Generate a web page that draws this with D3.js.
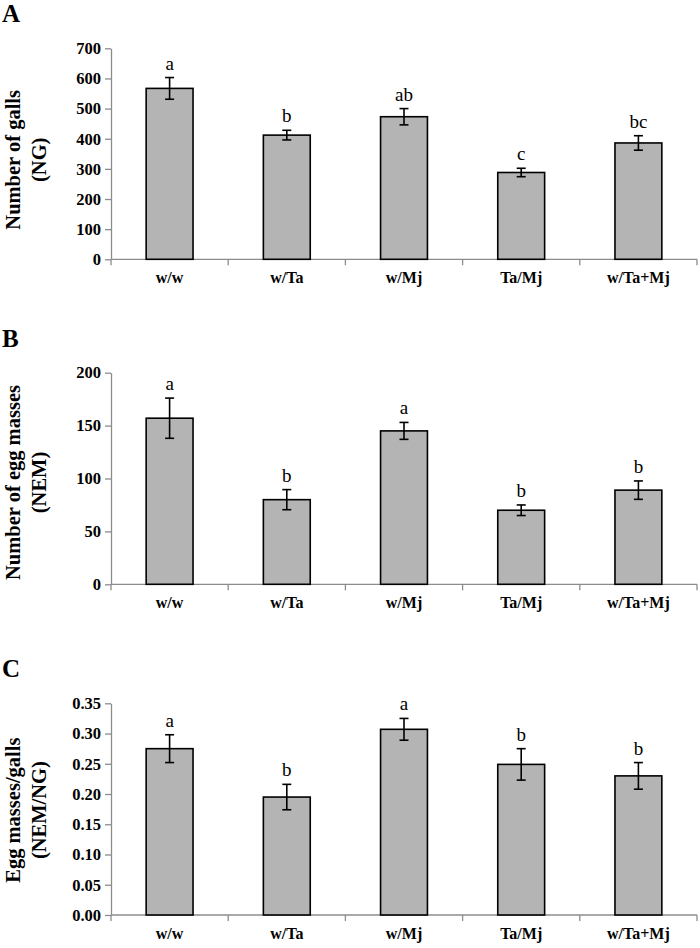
<!DOCTYPE html>
<html>
<head>
<meta charset="utf-8">
<script src="https://cdn.jsdelivr.net/npm/d3@7"></script>
<style>
  html, body { margin: 0; padding: 0; background: #fff; }
  svg { display: block; }
</style>
</head>
<body>
<svg id="chart" width="700" height="948"></svg>
<script>
const categories = ["w/w", "w/Ta", "w/Mj", "Ta/Mj", "w/Ta+Mj"];

const gallsMean = [567, 412, 473, 288, 386];
const gallsErr = [36, 16, 27, 14, 24];
const gallsLetters = ["a", "b", "ab", "c", "bc"];
const gallsTicks = [0, 100, 200, 300, 400, 500, 600, 700];

const eggMean = [157, 80, 145, 70, 89];
const eggErr = [19, 9.5, 8, 5, 8.7];
const eggLetters = ["a", "b", "a", "b", "b"];
const eggTicks = [0, 50, 100, 150, 200];

const ratioMean = [0.275, 0.195, 0.307, 0.249, 0.230];
const ratioErr = [0.023, 0.021, 0.018, 0.026, 0.022];
const ratioLetters = ["a", "b", "a", "b", "b"];
const ratioTicks = [0, 0.05, 0.10, 0.15, 0.20, 0.25, 0.30, 0.35];

const panels = [
  { label: "A", top: 48.3, bottom: 259.3, max: 700, means: gallsMean, errs: gallsErr, letters: gallsLetters, ticks: gallsTicks, fmt: d3.format("d"), title1: "Number of galls", title2: "(NG)", shift: 6 },
  { label: "B", top: 372.7, bottom: 584.3, max: 200, means: eggMean, errs: eggErr, letters: eggLetters, ticks: eggTicks, fmt: d3.format("d"), title1: "Number of egg masses", title2: "(NEM)", shift: 4 },
  { label: "C", top: 703.3, bottom: 915, max: 0.35, means: ratioMean, errs: ratioErr, letters: ratioLetters, ticks: ratioTicks, fmt: d3.format(".2f"), title1: "Egg masses/galls", title2: "(NEM/NG)", shift: 1 }
];

const svg = d3.select("#chart");
const left = 111, right = 697;
const serif = "'Liberation Serif', 'Times New Roman', serif";

const x = d3.scaleBand().domain(categories).range([left, right]).paddingInner(0.6).paddingOuter(0.3);

panels.forEach(p => {
  const g = svg.append("g");
  const y = d3.scaleLinear().domain([0, p.max]).range([p.bottom, p.top]);

  // panel label
  g.append("text").attr("x", 2).attr("y", p.top - 26)
    .attr("font-family", serif).attr("font-weight", "bold").attr("font-size", 25)
    .attr("fill", "#000").text(p.label);

  // y axis
  const yAxis = d3.axisLeft(y).tickValues(p.ticks).tickFormat(p.fmt).tickSize(6).tickSizeOuter(0);
  const ya = g.append("g").attr("transform", `translate(${left},0)`).call(yAxis);
  ya.select(".domain").attr("stroke", "#8c8c8c").attr("stroke-width", 1.3);
  ya.selectAll(".tick line").attr("stroke", "#8c8c8c").attr("stroke-width", 1.3);
  ya.selectAll(".tick text").attr("font-family", serif).attr("font-weight", "bold")
    .attr("font-size", 16.5).attr("fill", "#000").attr("x", -10);

  // x axis: line with ticks at band boundaries
  const xAxisG = g.append("g").attr("transform", `translate(0,${p.bottom})`);
  xAxisG.append("line").attr("x1", left).attr("x2", right).attr("y1", 0).attr("y2", 0)
    .attr("stroke", "#8c8c8c").attr("stroke-width", 1.3);
  const bounds = d3.range(categories.length + 1).map(i => left + (right - left) * i / categories.length);
  xAxisG.selectAll("line.b").data(bounds).join("line").attr("class", "b")
    .attr("x1", d => d).attr("x2", d => d).attr("y1", 0).attr("y2", 6)
    .attr("stroke", "#8c8c8c").attr("stroke-width", 1.3);
  const bandCenter = i => left + (right - left) * (i + 0.5) / categories.length;
  xAxisG.selectAll("text").data(categories).join("text")
    .attr("x", (d, i) => bandCenter(i)).attr("y", 24)
    .attr("text-anchor", "middle").attr("font-family", serif).attr("font-weight", "bold")
    .attr("font-size", 16).attr("fill", "#000").text(d => d);

  // bars
  const bw = x.bandwidth();
  const data = categories.map((c, i) => ({ c, i, m: p.means[i], e: p.errs[i], l: p.letters[i] }));
  g.selectAll("rect.bar").data(data).join("rect").attr("class", "bar")
    .attr("x", d => bandCenter(d.i) - bw / 2).attr("width", bw)
    .attr("y", d => y(d.m)).attr("height", d => y(0) - y(d.m))
    .attr("fill", "#b4b4b4").attr("stroke", "#000").attr("stroke-width", 1.6);

  // error bars
  const eb = g.selectAll("g.err").data(data).join("g").attr("class", "err")
    .attr("stroke", "#000").attr("stroke-width", 1.6);
  eb.append("line").attr("x1", d => bandCenter(d.i)).attr("x2", d => bandCenter(d.i))
    .attr("y1", d => y(d.m + d.e)).attr("y2", d => y(d.m - d.e));
  eb.append("line").attr("x1", d => bandCenter(d.i) - 4.5).attr("x2", d => bandCenter(d.i) + 4.5)
    .attr("y1", d => y(d.m + d.e)).attr("y2", d => y(d.m + d.e));
  eb.append("line").attr("x1", d => bandCenter(d.i) - 4.5).attr("x2", d => bandCenter(d.i) + 4.5)
    .attr("y1", d => y(d.m - d.e)).attr("y2", d => y(d.m - d.e));

  // letters
  g.selectAll("text.letter").data(data).join("text").attr("class", "letter")
    .attr("x", d => bandCenter(d.i)).attr("y", d => y(d.m + d.e) - 8)
    .attr("text-anchor", "middle").attr("font-family", serif).attr("font-size", 19)
    .attr("fill", "#000").text(d => d.l);

  // y title
  const cy = (p.top + p.bottom) / 2 + p.shift;
  g.append("text").attr("transform", `translate(20,${cy}) rotate(-90)`)
    .attr("text-anchor", "middle").attr("font-family", serif).attr("font-weight", "bold")
    .attr("font-size", 20.5).attr("fill", "#000").text(p.title1);
  g.append("text").attr("transform", `translate(46,${cy}) rotate(-90)`)
    .attr("text-anchor", "middle").attr("font-family", serif).attr("font-weight", "bold")
    .attr("font-size", 20.5).attr("fill", "#000").text(p.title2);
});
</script>
</body>
</html>
